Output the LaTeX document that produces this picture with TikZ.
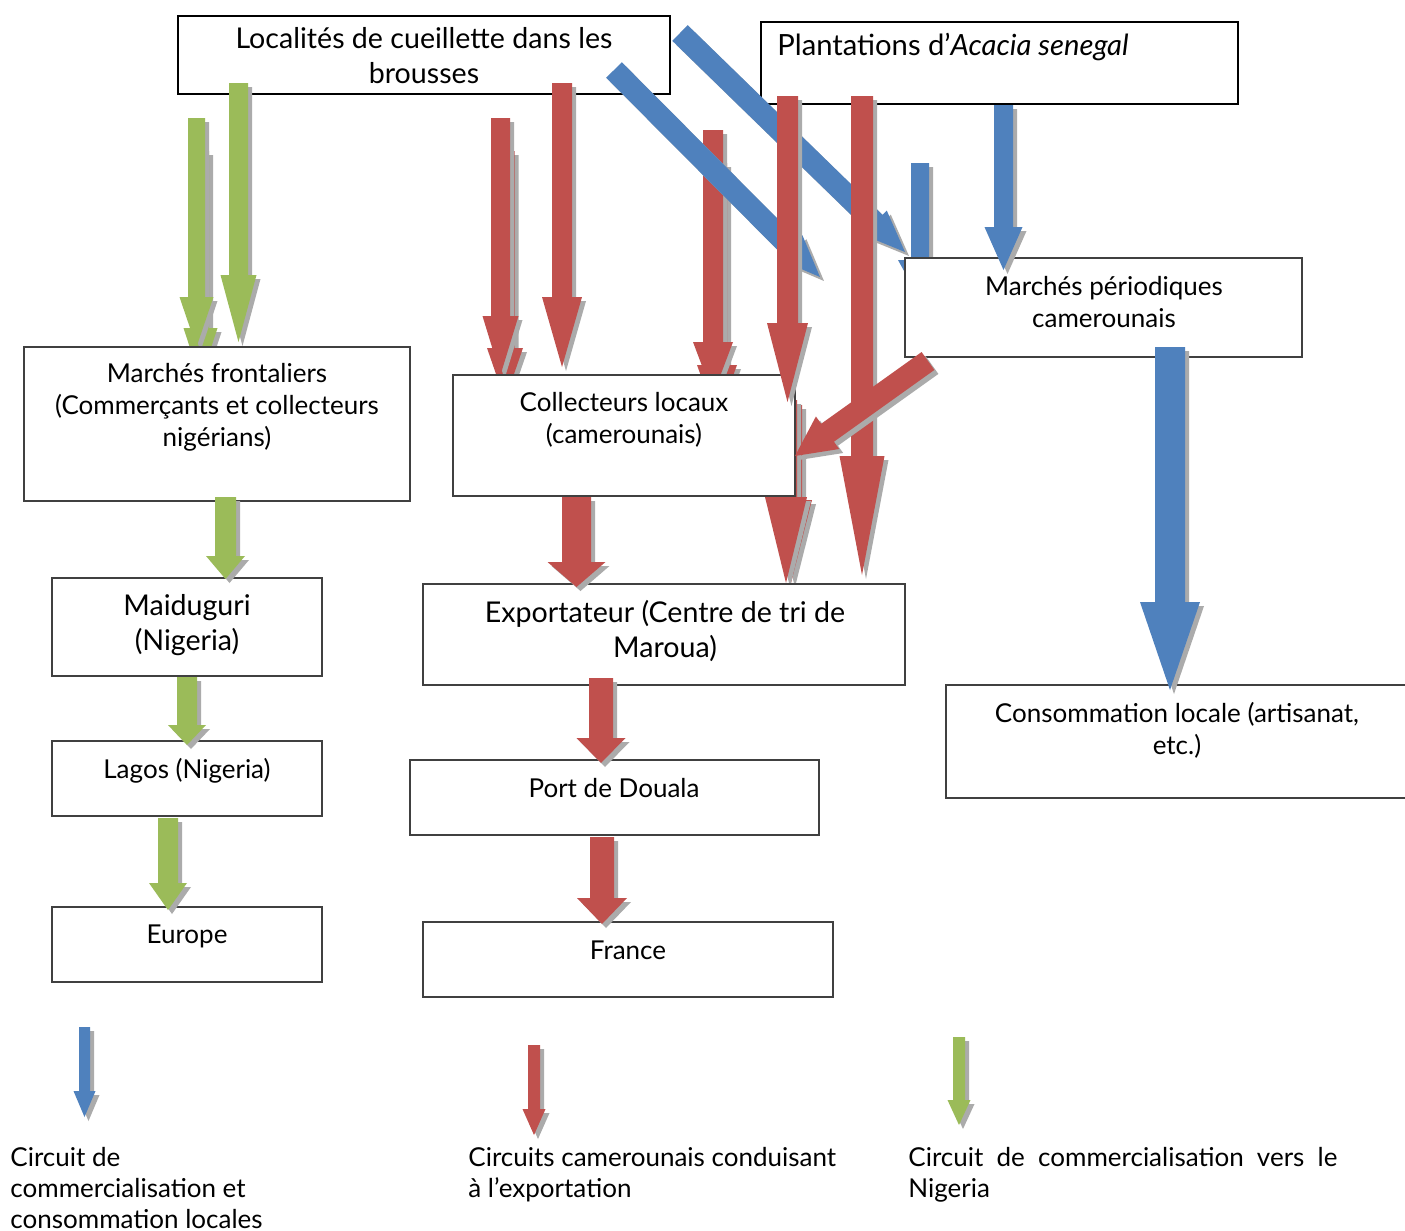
\documentclass[tikz,border=0pt]{standalone}
\usepackage{fontspec}
\setmainfont{Lato}
\usetikzlibrary{fit}
\definecolor{cgreen}{HTML}{9BBB59}
\definecolor{cred}{HTML}{C0504D}
\definecolor{cblue}{HTML}{4F81BD}
\colorlet{shadowc}{black!33}
% block arrow: colour, x1, y1, x2, y2, shaft width, head width, head length (px)
\newcommand\blockarr[8]{%
  \pgfmathsetmacro\baAng{atan2(-((#5)-(#3)),(#4)-(#2))}%
  \pgfmathsetmacro\baLen{veclen((#4)-(#2),(#5)-(#3))}%
  \pgfmathsetmacro\baNeck{\baLen-(#8)}%
  \pgfmathsetmacro\baW{(#6)/2}%
  \pgfmathsetmacro\baH{(#7)/2}%
  \fill[shadowc,shift={(#2+4,#3+4)},rotate=\baAng] (0,-\baW) -- (\baNeck,-\baW) -- (\baNeck,-\baH) -- (\baLen,0) -- (\baNeck,\baH) -- (\baNeck,\baW) -- (0,\baW) -- cycle;
  \fill[#1,shift={(#2,#3)},rotate=\baAng] (0,-\baW) -- (\baNeck,-\baW) -- (\baNeck,-\baH) -- (\baLen,0) -- (\baNeck,\baH) -- (\baNeck,\baW) -- (0,\baW) -- cycle;
}
% vertical block arrow: colour, centre x, top, tip, shaft width, head width, head length
\newcommand\varr[7]{\blockarr{#1}{#2}{#3}{#2}{#4}{#5}{#6}{#7}}
\tikzset{
  topbox/.style={draw=black, line width=1pt, fill=white, inner sep=0pt},
  box/.style={draw=black!75, line width=0.6pt, fill=white, inner sep=0pt},
  lbl/.style={font=\fontsize{13}{16}\selectfont, align=center, inner sep=0pt},
  biglbl/.style={font=\fontsize{14.3}{17.5}\selectfont, align=center, inner sep=0pt},
  leg/.style={font=\fontsize{13}{15.5}\selectfont, align=left, inner sep=0pt, anchor=north west},
}
\begin{document}
\begin{tikzpicture}[x=0.5pt,y=-0.5pt]
\useasboundingbox (0,0) rectangle (1405,1231);
\fill[white] (0,0) rectangle (1405,1231);

% top boxes
\node[topbox, fit={(178,16) (670,94)}] (top) {};
\node[topbox, fit={(761,22) (1238,104)}] (plant) {};
\node[biglbl] (top-t) at (424,56) {Localités de cueillette dans les\\brousses};
\node[biglbl, anchor=base west, font=\fontsize{14.6}{17.5}\selectfont] (plant-t) at (777,55) {Plantations d’\textit{Acacia senegal}};

% arrows under the lower boxes
\varr{cgreen}{200.5}{151}{380}{17}{34}{52}
\varr{cgreen}{196.5}{118}{347}{17}{34}{50}
\varr{cgreen}{238.5}{83}{342}{19}{36}{67}
\varr{cred}{505}{151}{400}{19}{36}{52}
\varr{cred}{500.5}{118}{375}{19}{36}{59}
\varr{cred}{562}{83}{367}{20}{40}{70}
\varr{cred}{717}{163}{420}{20}{40}{55}
\varr{cred}{713}{130}{395}{20}{40}{53}
\varr{cblue}{920}{163}{300}{18}{44}{40}
\blockarr{cblue}{614}{70}{820}{277}{22}{34}{42}
\blockarr{cblue}{680}{33}{905}{252}{22}{34}{42}
\varr{cred}{791}{405}{583}{22}{42}{83}
\varr{cred}{786}{400}{583}{22}{42}{86}

% lower boxes
\node[box, fit={(905,258) (1302,357)}] (march) {};
\node[box, fit={(24,347) (410,501)}] (front) {};
\node[box, fit={(453,375) (795,496)}] (coll) {};
\node[box, fit={(52,578) (322,676)}] (maid) {};
\node[box, fit={(423,584) (905,685)}] (export) {};
\node[box, fit={(946,685) (1409,798)}] (conso) {};
\node[box, fit={(52,741) (322,816)}] (lagos) {};
\node[box, fit={(410,760) (819,835)}] (port) {};
\node[box, fit={(52,907) (322,982)}] (europe) {};
\node[box, fit={(423,922) (833,997)}] (france) {};

\node[lbl] (march-t) at (1104,302) {Marchés périodiques\\camerounais};
\node[lbl] (front-t) at (217,407) {Marchés frontaliers\\(Commerçants et collecteurs\\nigérians)};
\node[lbl] (coll-t) at (624,420) {Collecteurs locaux\\(camerounais)};
\node[biglbl] (maid-t) at (187,625) {Maiduguri\\(Nigeria)};
\node[biglbl] (export-t) at (665,631) {Exportateur (Centre de tri de\\Maroua)};
\node[lbl] (conso-t) at (1177,730) {Consommation locale (artisanat,\\etc.)};
\node[lbl] (lagos-t) at (187,771) {Lagos (Nigeria)};
\node[lbl] (port-t) at (614,788) {Port de Douala};
\node[lbl] (europe-t) at (187,936) {Europe};
\node[lbl] (france-t) at (628,950) {France};

% arrows over the boxes
\varr{cred}{787.5}{96}{402}{21}{41}{79}
\varr{cred}{862}{96}{575}{22}{45}{119}
\blockarr{cred}{928}{361}{795}{456}{22}{40}{40}
\varr{cblue}{1003.5}{105}{270}{19}{38}{43}
\varr{cblue}{1170}{347}{690}{30}{60}{88}
\varr{cgreen}{225.5}{497}{579}{21}{39}{23}
\varr{cgreen}{187}{677}{745}{20}{38}{20}
\varr{cgreen}{168}{818}{910}{20}{38}{27}
\varr{cred}{576.5}{497}{587}{29}{58}{25}
\varr{cred}{601}{678}{763}{24}{49}{25}
\varr{cred}{602}{837}{924}{24}{50}{26}

% legend
\varr{cblue}{84.5}{1027}{1117}{11}{22}{26}
\varr{cred}{534}{1045}{1135}{12}{23}{26}
\varr{cgreen}{959}{1037}{1125}{12}{23}{25}
\node[leg] (leg-b) at (10,1147) {Circuit de\\commercialisation et\\consommation locales};
\node[leg] (leg-r) at (468,1147) {Circuits camerounais conduisant\\à l’exportation};
\node[leg] (leg-g) at (908,1147) {\hbox to 214.5pt{Circuit\hfill de\hfill commercialisation\hfill vers\hfill le}\\Nigeria};
\end{tikzpicture}
\end{document}
